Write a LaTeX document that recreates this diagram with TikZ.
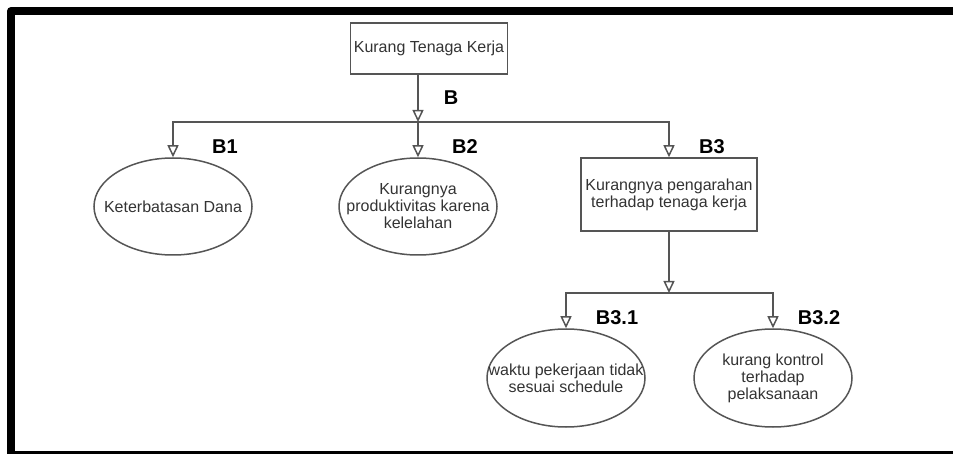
\documentclass[tikz,border=0pt]{standalone}
\usepackage{fontspec}
\setmainfont{Liberation Sans}
\usepackage{tikz}
\usetikzlibrary{shapes.geometric,arrows.meta,positioning}
\definecolor{linegray}{HTML}{555555}
\definecolor{txtgray}{HTML}{333333}
\tikzset{
box/.style={draw=linegray, line width=1.5pt, rectangle, align=center, text=txtgray, font=\fontsize{16pt}{17pt}\selectfont}, % the rectangular causes
oval/.style={draw=linegray, line width=1.5pt, ellipse, minimum width=158pt, minimum height=97pt, inner sep=0pt}, % the round causes
ovaltext/.style={align=center, text=txtgray, font=\fontsize{16pt}{17pt}\selectfont}, % text inside the ovals
tag/.style={font=\fontsize{20pt}{24pt}\selectfont\bfseries, text=black}, % the B codes
branch/.style={draw=linegray, line width=1.5pt, -{Triangle[open,length=12pt,width=11pt]}}, % tree arrows
}

\begin{document}
\begin{tikzpicture}[x=1pt,y=-1pt]
   \useasboundingbox (0,0) rectangle (953,454);
   \clip (0,0) rectangle (953,454);
   % frame, open on the right, cut at the bottom
   \draw[line width=8pt, line join=round] (960,11) -- (11,11) -- (11,455) -- (960,455);
   % level 0
   \node[box, minimum width=152pt, minimum height=51pt] (b) at (429,48.5) {Kurang Tenaga Kerja};
   \coordinate (split) at (418,122);
   % level 1
   \node[oval, label={[ovaltext]center:{Keterbatasan Dana}}] (b_1) at (173,206.5) {};
   \node[oval, label={[ovaltext]center:{Kurangnya\\produktivitas karena\\kelelahan}}] (b_2) at (418,206.5) {};
   \node[box, minimum width=176pt, minimum height=73pt] (b_3) at (669,194.5) {Kurangnya pengarahan\\terhadap tenaga kerja};
   \coordinate (split_3) at (669,293);
   % level 2
   \node[oval, minimum height=98pt, label={[ovaltext]center:{waktu pekerjaan tidak\\sesuai schedule}}] (b_31) at (566,378) {};
   \node[oval, minimum height=98pt, label={[ovaltext]center:{kurang kontrol\\terhadap\\pelaksanaan}}] (b_32) at (773,378) {};
   % codes
   \node[tag] (t_b) at (451,98) {B};
   \node[tag] (t_1) at (225,147) {B1};
   \node[tag] (t_2) at (465,147) {B2};
   \node[tag] (t_3) at (712,147) {B3};
   \node[tag] (t_31) at (617,318) {B3.1};
   \node[tag] (t_32) at (819,318) {B3.2};
   % arrows
   \draw[branch] (b.south -| split) -- (split);
   \draw[branch] (split) -| (b_1.north);
   \draw[branch] (split) -- (b_2.north);
   \draw[branch] (split) -| (b_3.north);
   \draw[branch] (b_3.south) -- (split_3);
   \draw[branch] (split_3) -| (b_31.north);
   \draw[branch] (split_3) -| (b_32.north);
\end{tikzpicture}
\end{document}
